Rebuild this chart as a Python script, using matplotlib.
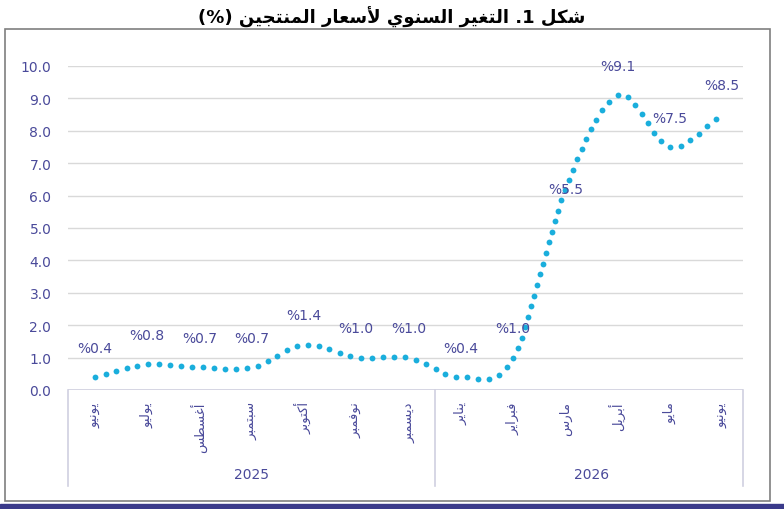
import numpy as np
import matplotlib
matplotlib.use("Agg")
import matplotlib.pyplot as plt
from matplotlib.patches import Rectangle

# data
months = ["يونيو", "يوليو", "أغسطس", "سبتمبر", "أكتوبر", "نوفمبر", "ديسمبر",
          "يناير", "فبراير", "مارس", "أبريل", "مايو", "يونيو"]
years = ["2025", "2026"]
year_counts = [7, 6]
values = [0.4, 0.8, 0.7, 0.7, 1.4, 1.0, 1.0, 0.4, 1.0, 6.2, 9.1, 7.5, 8.5]
labels = ["0.4", "0.8", "0.7", "0.7", "1.4", "1.0", "1.0", "0.4", "1.0", "5.5", "9.1", "7.5", "8.5"]
label_dy = [0.9, 0.9, 0.9, 0.9, 0.9, 0.9, 0.9, 0.9, 0.9, 0.0, 0.9, 0.9, 0.9]

TXT = "#4a4a9a"
DOT = "#1aaedc"

# minimal arabic shaping (matplotlib has no bidi / joining)
FORMS = {  # isolated, final, initial, medial
    "ا": (0xFE8D, 0xFE8E, None, None), "أ": (0xFE83, 0xFE84, None, None),
    "د": (0xFEA9, 0xFEAA, None, None), "ر": (0xFEAD, 0xFEAE, None, None),
    "و": (0xFEED, 0xFEEE, None, None),
    "ب": (0xFE8F, 0xFE90, 0xFE91, 0xFE92), "ت": (0xFE95, 0xFE96, 0xFE97, 0xFE98),
    "ج": (0xFE9D, 0xFE9E, 0xFE9F, 0xFEA0), "س": (0xFEB1, 0xFEB2, 0xFEB3, 0xFEB4),
    "ش": (0xFEB5, 0xFEB6, 0xFEB7, 0xFEB8), "ط": (0xFEC1, 0xFEC2, 0xFEC3, 0xFEC4),
    "ع": (0xFEC9, 0xFECA, 0xFECB, 0xFECC), "غ": (0xFECD, 0xFECE, 0xFECF, 0xFED0),
    "ف": (0xFED1, 0xFED2, 0xFED3, 0xFED4), "ك": (0xFED9, 0xFEDA, 0xFEDB, 0xFEDC),
    "ل": (0xFEDD, 0xFEDE, 0xFEDF, 0xFEE0), "م": (0xFEE1, 0xFEE2, 0xFEE3, 0xFEE4),
    "ن": (0xFEE5, 0xFEE6, 0xFEE7, 0xFEE8), "ي": (0xFEF1, 0xFEF2, 0xFEF3, 0xFEF4),
}


def shape_word(w):
    out = []
    i = 0
    chars = list(w)
    n = len(chars)
    prev_joins = False
    while i < n:
        c = chars[i]
        if c == "ل" and i + 1 < n and chars[i + 1] == "أ":
            out.append(chr(0xFEF8 if prev_joins else 0xFEF7))
            prev_joins = False
            i += 2
            continue
        f = FORMS[c]
        dual = f[2] is not None
        next_ok = i + 1 < n and chars[i + 1] in FORMS
        if prev_joins and dual and next_ok:
            g = f[3]
        elif prev_joins:
            g = f[1]
        elif dual and next_ok:
            g = f[2]
        else:
            g = f[0]
        out.append(chr(g))
        prev_joins = dual and next_ok
        i += 1
    return "".join(reversed(out))


def shape(text):
    # logical order in, visual (left to right) order out
    res = []
    for w in text.split(" "):
        if all(ch in FORMS for ch in w):
            res.append(shape_word(w))
        else:
            res.append(w)
    return " ".join(reversed(res))


fig = plt.figure(figsize=(7.84, 5.10), dpi=100)
ax = fig.add_axes([68 / 784, 1 - 391 / 510, 675 / 784, 324 / 510])

x = np.arange(len(values))
ax.set_xlim(-0.517, 12.40)
ax.set_ylim(0, 10)

# smooth curve (catmull-rom) for drawing only
sx, sy = 52.25, 32.4
px, py = x * sx, np.array(values) * sy
P = np.column_stack([px, py])
P = np.vstack([P[0] * 2 - P[1], P, P[-1] * 2 - P[-2]])
curve = []
for k in range(1, len(P) - 2):
    p0, p1, p2, p3 = P[k - 1], P[k], P[k + 1], P[k + 2]
    for t in np.linspace(0, 1, 60, endpoint=False):
        curve.append(0.5 * (2 * p1 + (-p0 + p2) * t + (2 * p0 - 5 * p1 + 4 * p2 - p3) * t ** 2
                            + (-p0 + 3 * p1 - 3 * p2 + p3) * t ** 3))
curve.append(P[-2])
curve = np.array(curve)
seg = np.hypot(*np.diff(curve, axis=0).T)
s = np.concatenate([[0], np.cumsum(seg)])
si = np.arange(0, s[-1], 11.0)
dx = np.interp(si, s, curve[:, 0]) / sx
dy = np.interp(si, s, curve[:, 1]) / sy
ax.plot(dx, dy, "o", color=DOT, ms=4.2, mec="none", clip_on=False)

for xi, v, lab, o in zip(x, values, labels, label_dy):
    ax.text(xi, v + o, "%" + lab, ha="center", va="center", color=TXT, fontsize=10)

ax.set_yticks(np.arange(0, 10.5, 1.0))
ax.set_yticklabels([f"{t:.1f}" for t in np.arange(0, 10.5, 1.0)], color=TXT, fontsize=10)
ax.yaxis.grid(True, color="#d9d9d9", lw=1)
ax.set_axisbelow(True)
ax.set_xticks([])
ax.tick_params(axis="y", length=0, pad=12)
for sp in ax.spines.values():
    sp.set_visible(False)
ax.axhline(0, color="#d0d0e0", lw=1.2)

# month labels
for xi, m in zip(x, months):
    ax.text(xi, -0.35, shape(m), rotation=90, ha="center", va="top", color=TXT,
            fontsize=9.5, family="DejaVu Sans")

# year row and separators
edges = [-0.517, 6.5, 12.40]
for e in edges:
    ax.plot([e, e], [0, -2.95], color="#d0d0e0", lw=1.2, clip_on=False)
start = 0
for yl, c in zip(years, year_counts):
    ax.text(start + (c - 1) / 2, -2.6, yl, ha="center", va="center", color=TXT, fontsize=10)
    start += c

title = "(%) " + shape("التغير السنوي لأسعار المنتجين") + " .1 " + shape("شكل")
fig.text(0.5, 1 - 17 / 510, title, ha="center", va="center", fontsize=13,
         fontweight="bold", color="black", family="DejaVu Sans")

fig.patches.append(Rectangle((5 / 784, 1 - 502 / 510), 765 / 784, 472 / 510,
                             transform=fig.transFigure, fill=False, ec="#7f7f7f", lw=1.2))
fig.patches.append(Rectangle((0, 0), 1, 5 / 510, transform=fig.transFigure,
                             color="#3a3a8a"))

fig.savefig("out.png", dpi=100)
